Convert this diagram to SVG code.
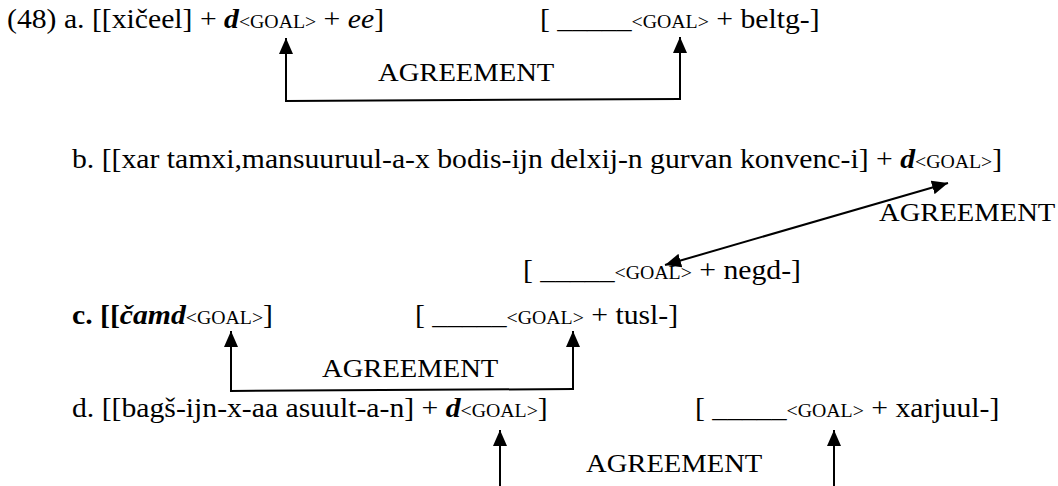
<svg xmlns="http://www.w3.org/2000/svg" width="1058" height="486" viewBox="0 0 1058 486">
<style>
text{font-family:"Liberation Serif","Times New Roman",serif;font-size:27px;fill:#000}
.lbl{font-size:26px}
.sub{font-size:18px}
.bi{font-weight:bold;font-style:italic}
.b{font-weight:bold}
.i{font-style:italic}
.con{stroke:#000;stroke-width:2;fill:none}
</style>
<defs>
<marker id="ah" viewBox="0 0 16 14" refX="16" refY="7" markerWidth="16" markerHeight="14" markerUnits="userSpaceOnUse" orient="auto-start-reverse">
<path d="M0,0 L16,7 L0,14 z" fill="#000"/>
</marker>
</defs>
<rect width="1058" height="486" fill="#fff"/>

<g id="a-src"><text transform="translate(7,28) scale(1.1,1)">(48) a. [[xičeel] + <tspan class="bi">d</tspan><tspan class="sub">&lt;GOAL&gt;</tspan> + <tspan class="i">ee</tspan>]</text></g>
<g id="a-tgt"><text transform="translate(540,28) scale(1.1,1)">[ _____<tspan class="sub">&lt;GOAL&gt;</tspan> + beltg-]</text></g>
<g id="a-label"><text class="lbl" transform="translate(378,81) scale(1.1,1)">AGREEMENT</text></g>

<g id="b-src"><text transform="translate(72,168) scale(1.1,1)">b. [[xar tamxi,mansuuruul-a-x bodis-ijn delxij-n gurvan konvenc-i] + <tspan class="bi">d</tspan><tspan class="sub">&lt;GOAL&gt;</tspan>]</text></g>
<g id="b-label"><text class="lbl" transform="translate(879,221) scale(1.1,1)">AGREEMENT</text></g>
<g id="b-tgt"><text transform="translate(523,279) scale(1.1,1)">[ _____<tspan class="sub">&lt;GOAL&gt;</tspan> + negd-]</text></g>

<g id="c-src"><text transform="translate(72,324) scale(1.1,1)"><tspan class="b">c. [[</tspan><tspan class="bi">čamd</tspan><tspan class="sub">&lt;GOAL&gt;</tspan>]</text></g>
<g id="c-tgt"><text transform="translate(415,324) scale(1.1,1)">[ _____<tspan class="sub">&lt;GOAL&gt;</tspan> + tusl-]</text></g>
<g id="c-label"><text class="lbl" transform="translate(322,377) scale(1.1,1)">AGREEMENT</text></g>

<g id="d-src"><text transform="translate(72,417) scale(1.1,1)">d. [[bagš-ijn-x-aa asuult-a-n] + <tspan class="bi">d</tspan><tspan class="sub">&lt;GOAL&gt;</tspan>]</text></g>
<g id="d-tgt"><text transform="translate(695,417) scale(1.1,1)">[ _____<tspan class="sub">&lt;GOAL&gt;</tspan> + xarjuul-]</text></g>
<g id="d-label"><text class="lbl" transform="translate(586,472) scale(1.1,1)">AGREEMENT</text></g>

<g id="connectors">
<path class="con" d="M286,102 L286,38" marker-end="url(#ah)"/>
<path class="con" d="M680,100 L680,37" marker-end="url(#ah)"/>
<path class="con" d="M285,101 L681,99"/>
<path class="con" d="M665,265 L948,183" marker-start="url(#ah)" marker-end="url(#ah)"/>
<path class="con" d="M231,392 L231,331" marker-end="url(#ah)"/>
<path class="con" d="M573,390 L573,331" marker-end="url(#ah)"/>
<path class="con" d="M230,391 L574,389"/>
<path class="con" d="M500,490 L500,430" marker-end="url(#ah)"/>
<path class="con" d="M834,490 L834,430" marker-end="url(#ah)"/>
</g>
</svg>
